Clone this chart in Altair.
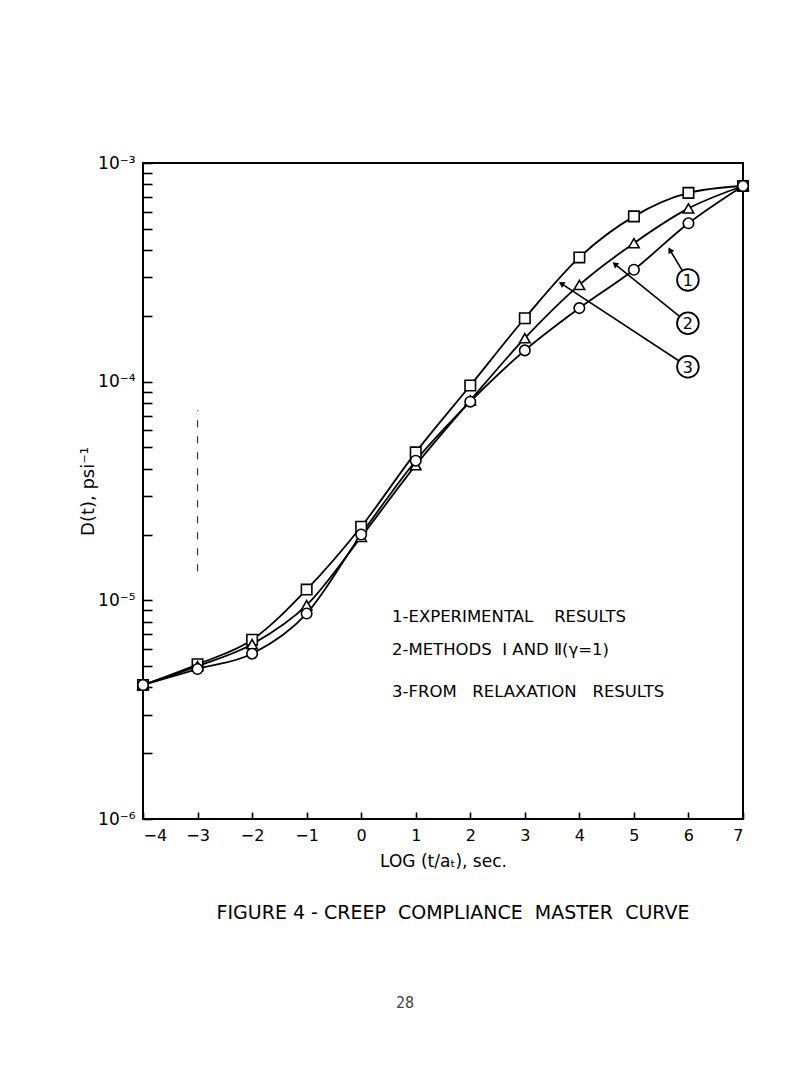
import math
import altair as alt
import pandas as pd

# ---- data ----
x_vals = [-4, -3, -2, -1, 0, 1, 2, 3, 4, 5, 6, 7]
d_square = [4.1e-6, 5.1e-6, 6.6e-6, 1.12e-5, 2.17e-5, 4.75e-5, 9.6e-5, 1.95e-4, 3.7e-4, 5.7e-4, 7.3e-4, 7.85e-4]
d_triangle = [4.1e-6, 5.0e-6, 6.3e-6, 9.5e-6, 1.95e-5, 4.15e-5, 8.2e-5, 1.58e-4, 2.77e-4, 4.3e-4, 6.2e-4, 7.85e-4]
d_circle = [4.1e-6, 4.85e-6, 5.7e-6, 8.7e-6, 2.0e-5, 4.35e-5, 8.1e-5, 1.39e-4, 2.17e-4, 3.25e-4, 5.3e-4, 7.85e-4]

series_names = ["square", "triangle", "circle"]
series_shapes = ["square", "triangle-up", "circle"]

# curve labels (circled numbers) and arrow tips, in data units
label_text = ["1", "2", "3"]
label_x = [5.99, 5.99, 5.99]
label_y = [2.92e-4, 1.85e-4, 1.17e-4]
tip_x = [5.66, 4.65, 3.67]
tip_y = [4.0e-4, 3.45e-4, 2.81e-4]

# legend text block
legend_lines = ["1-EXPERIMENTAL\u00a0\u00a0\u00a0\u00a0RESULTS",
                "2-METHODS\u00a0\u00a0\u2160\u00a0AND\u00a0\u2161(\u03b3=1)",
                "3-FROM\u00a0\u00a0\u00a0RELAXATION\u00a0\u00a0\u00a0RESULTS"]
legend_x = [0.565, 0.565, 0.565]
legend_y = [8.4e-6, 5.93e-6, 3.81e-6]

# stray dash-dot mark in the original at x = -3
stray_x = [-3]
stray_y1 = [1.36e-5]
stray_y2 = [7.4e-5]

caption = ["FIGURE 4 - CREEP\u00a0\u00a0COMPLIANCE\u00a0\u00a0MASTER\u00a0\u00a0CURVE"]
page_number = ["28"]

W, H = 600, 656
FONT = "DejaVu Sans"

rows = []
for name, vals in zip(series_names, [d_square, d_triangle, d_circle]):
    for xv, dv in zip(x_vals, vals):
        rows.append({"x": xv, "d": dv, "series": name})
df = pd.DataFrame(rows)

# arrowhead rotation from the scale geometry
px_x = W / 11.0
px_dec = H / 3.0
angles = []
for lx, ly, tx, ty in zip(label_x, label_y, tip_x, tip_y):
    dx = (tx - lx) * px_x
    dy = -(math.log10(ty) - math.log10(ly)) * px_dec
    angles.append(math.degrees(math.atan2(dx, -dy)) % 360)
ann = pd.DataFrame({"label": label_text, "lx": label_x, "ly": label_y,
                    "tx": tip_x, "ty": tip_y, "angle": angles})
leg = pd.DataFrame({"text": legend_lines, "x": legend_x, "y": legend_y})
stray = pd.DataFrame({"x": stray_x, "y1": stray_y1, "y2": stray_y2})

xscale = alt.Scale(domain=[-4, 7], nice=False, zero=False)
yscale = alt.Scale(type="log", domain=[1e-6, 1e-3], nice=False)

minor_vals = []
for e in [-6, -5, -4]:
    for k in range(1, 10):
        minor_vals.append(k * 10.0 ** e)
minor_vals.append(1e-3)

label_expr = ("round(log(datum.value)/LN10) == -3 ? '10\u207b\u00b3' : "
              "round(log(datum.value)/LN10) == -4 ? '10\u207b\u2074' : "
              "round(log(datum.value)/LN10) == -5 ? '10\u207b\u2075' : '10\u207b\u2076'")

x_main = alt.X("x:Q", scale=xscale,
               axis=alt.Axis(values=x_vals, title="LOG (t/a\u209c), sec.", ticks=False,
                             domain=False, grid=False, labelFont=FONT, labelFontSize=16,
                             labelColor="black", labelPadding=8, titleFont=FONT,
                             titleFontSize=17, titleFontWeight="normal", titleColor="black",
                             titlePadding=10))
y_main = alt.Y("d:Q", scale=yscale,
               axis=alt.Axis(values=[1e-6, 1e-5, 1e-4, 1e-3], labelExpr=label_expr,
                             ticks=False, domain=False, grid=False, labelFont=FONT,
                             labelFontSize=17, labelColor="black", labelPadding=8,
                             title="D(t), psi\u207b\u00b9", titleFont=FONT, titleFontSize=18,
                             titleFontWeight="normal", titleColor="black", titlePadding=0))

x_tick = alt.X("x:Q", scale=xscale,
               axis=alt.Axis(orient="top", offset=-H, values=x_vals, labels=False,
                             domain=False, grid=False, title=None, tickSize=7,
                             tickWidth=1.6, tickColor="black"))
y_tick = alt.Y("d:Q", scale=yscale,
               axis=alt.Axis(orient="right", offset=-W, values=minor_vals, labels=False,
                             domain=False, grid=False, title=None, tickSize=9,
                             tickWidth=1.6, tickColor="black"))

lines = alt.Chart(df).mark_line(interpolate="monotone", color="black", strokeWidth=1.8).encode(
    x=x_main, y=y_main, detail="series:N")

points = alt.Chart(df).mark_point(filled=True, fill="white", stroke="black", strokeWidth=1.6,
                                  size=110, opacity=1).encode(
    x=x_tick, y=y_tick,
    shape=alt.Shape("series:N", scale=alt.Scale(domain=series_names, range=series_shapes),
                    legend=None))

xn = alt.X("lx:Q", scale=xscale, axis=None)
yn = alt.Y("ly:Q", scale=yscale, axis=None)

arrows = alt.Chart(ann).mark_rule(color="black", strokeWidth=1.6).encode(
    x=xn, y=yn, x2="tx:Q", y2="ty:Q")
heads = alt.Chart(ann).mark_point(shape="triangle-up", filled=True, color="black",
                                  size=45, opacity=1).encode(
    x=alt.X("tx:Q", scale=xscale, axis=None), y=alt.Y("ty:Q", scale=yscale, axis=None),
    angle=alt.Angle("angle:Q", scale=None))
circles = alt.Chart(ann).mark_point(shape="circle", filled=True, fill="white", stroke="black",
                                    strokeWidth=1.8, size=470, opacity=1).encode(x=xn, y=yn)
nums = alt.Chart(ann).mark_text(font=FONT, fontSize=16, color="black", baseline="middle",
                                align="center", dy=1).encode(x=xn, y=yn, text="label:N")

legend_text = alt.Chart(leg).mark_text(font=FONT, fontSize=16.5, color="black", align="left",
                                       baseline="middle").encode(
    x=alt.X("x:Q", scale=xscale, axis=None), y=alt.Y("y:Q", scale=yscale, axis=None),
    text="text:N")

stray_rule = alt.Chart(stray).mark_rule(color="#333", strokeWidth=1.2, strokeDash=[7, 9]).encode(
    x=alt.X("x:Q", scale=xscale, axis=None), y=alt.Y("y1:Q", scale=yscale, axis=None), y2="y2:Q")

caption_mark = alt.Chart(pd.DataFrame({"t": caption})).mark_text(
    font=FONT, fontSize=19, color="black", align="center", baseline="middle").encode(
    x=alt.value(310), y=alt.value(750), text="t:N")

page_no = alt.Chart(pd.DataFrame({"t": page_number})).mark_text(
    font="DejaVu Sans Mono", fontSize=15, color="#444", align="center", baseline="middle").encode(
    x=alt.value(262), y=alt.value(840), text="t:N")

chart = alt.layer(lines, points, stray_rule, arrows, circles, heads, nums, legend_text,
                  caption_mark, page_no).resolve_axis(
    x="independent", y="independent"
).properties(
    width=W, height=H,
    autosize=alt.AutoSizeParams(type="none"),
    padding={"left": 143, "top": 163, "right": 67, "bottom": 248},
    background="white",
).configure_view(stroke="black", strokeWidth=2)

chart.save("out.html", embed_options={"renderer": "svg", "actions": False})
